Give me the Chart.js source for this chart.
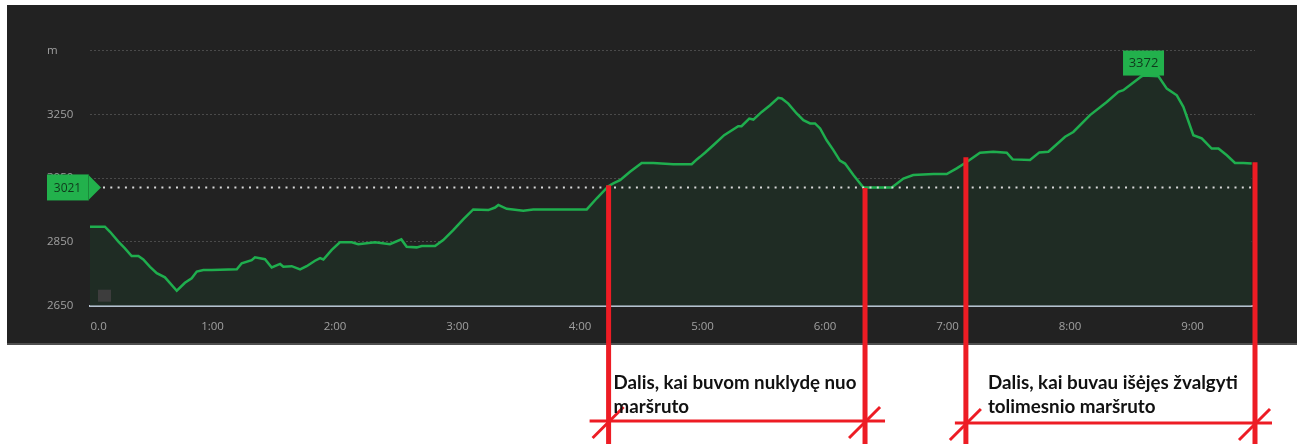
<!DOCTYPE html>
<html>
<head>
<meta charset="utf-8">
<script src="https://cdn.jsdelivr.net/npm/chart.js@4"></script>
<style>
  html, body { margin: 0; padding: 0; background: #fff; }
  #wrap { width: 1300px; height: 448px; }
</style>
</head>
<body>
<div id="wrap"><canvas id="profil" width="1300" height="448"></canvas></div>
<script>
// ---- DUOMENYS: laikas (min) ir aukstis (m) ----
const times = [0, 7.3, 9.8, 13.9, 17.1, 20.4, 23.7, 26.1, 29.4, 32.7, 36.7, 42.5, 46.5, 49.8, 52.3, 55.5, 59.6,
  71.9, 74.3, 79.2, 80.8, 85.7, 89.0, 93.1, 94.7, 98.8, 102.9, 106.1, 110.2, 112.7, 114.3, 118.4, 122.4,
  128.2, 131.4, 139.6, 146.9, 152.5, 155.1, 160.0, 162.5, 169.0, 173.0, 177.9, 182.8, 187.7, 195.1, 198.4,
  200.0, 204.1, 212.2, 217.1, 243.3, 248.2, 253.9, 256.3, 259.6, 264.5, 270.2, 275.9, 285.7, 294.7, 297.2,
  298.8, 301.2, 305.4, 310.6, 317.5, 319.1, 322.9, 324.9, 329.0, 333.1, 337.1, 338.8, 342.0, 346.1, 349.4,
  352.7, 355.1, 357.6, 360.8, 364.1, 367.3, 369.8, 373.9, 378.8, 392.7, 398.4, 403.2, 413.1, 419.6, 424.5,
  429.4, 435.9, 442.4, 449.0, 451.9, 460.4, 465.0, 469.4, 477.6, 481.6, 489.8, 498.0, 503.7, 506.1, 515.1,
  516.0, 523.3, 527.4, 532.3, 535.5, 540.4, 544.5, 549.4, 552.7, 556.8, 560.8, 564.9, 569.0];
const elev = [2898, 2898, 2882, 2851, 2830, 2806, 2806, 2795, 2772, 2752, 2739, 2697, 2722, 2736, 2757, 2762, 2762,
  2764, 2783, 2793, 2802, 2796, 2770, 2781, 2772, 2774, 2764, 2774, 2791, 2799, 2795, 2825, 2849,
  2849, 2843, 2849, 2843, 2858, 2835, 2833, 2837, 2837, 2856, 2887, 2921, 2952, 2950, 2958,
  2966, 2954, 2948, 2952, 2952, 2987, 3025, 3034, 3044, 3070, 3098, 3098, 3094, 3094, 3109,
  3117, 3130, 3154, 3185, 3213, 3213, 3237, 3234, 3258, 3279, 3302, 3300, 3284, 3253, 3232,
  3222, 3222, 3206, 3169, 3138, 3105, 3096, 3060, 3021, 3021, 3049, 3060, 3063, 3063, 3081,
  3101, 3130, 3133, 3130, 3109, 3107, 3131, 3133, 3180, 3195, 3248, 3289, 3321, 3326, 3370,
  3372, 3370, 3331, 3310, 3274, 3185, 3175, 3143, 3143, 3122, 3098, 3098, 3096];

const yTicks = [2650, 2850, 3050, 3250, 3450];   // 3450 rodomas kaip "m"
const xMaxMin = 570.6;                            // asies galas, min
const refLevel = 3021;                            // punktyrine linija + zyme kaireje
const peakTime = 516, peakElev = 3372;

// ---- anotacijos (raudoni ruozai) ----
const markTimes = [254, 379.6, 429, 570.6];
const markTops  = [3028, 3019, 3116, 3100];
const noteLines = [
  ['Dalis, kai buvom nuklydę nuo', 'maršruto'],
  ['Dalis, kai buvau išėjęs žvalgyti', 'tolimesnio maršruto']
];

const GREEN = '#22b14c';
const FONT = '"Open Sans", "DejaVu Sans", sans-serif';

// ---- PLUGIN: tamsus fonas ----
const panelBg = {
  id: 'panelBg',
  beforeDraw(chart){
    const c = chart.ctx;
    c.save();
    c.fillStyle = '#222222';
    c.fillRect(7, 5, 1290, 338);
    c.fillStyle = '#4f4f4f';
    c.fillRect(7, 343, 1290, 2);
    c.restore();
  }
};

// ---- PLUGIN: zymes, punktyras, raudoni ruozai ----
const overlays = {
  id: 'overlays',
  afterDatasetsDraw(chart){
    const c = chart.ctx, xs = chart.scales.x, ys = chart.scales.y, a = chart.chartArea;
    c.save();

    // pilkas kvadratelis pradzioje
    c.fillStyle = '#3d3d3d';
    c.fillRect(a.left + 8, a.bottom - 16, 13, 12);

    // punktyras ties refLevel
    const yr = ys.getPixelForValue(refLevel);
    c.strokeStyle = '#d9d9d9';
    c.lineWidth = 2;
    c.setLineDash([2, 5.3]);
    c.beginPath(); c.moveTo(a.left + 13, yr); c.lineTo(a.right - 4, yr); c.stroke();
    c.setLineDash([]);

    // kaire zyme 3021
    c.fillStyle = GREEN;
    c.fillRect(47, yr - 13, 41, 26);
    c.beginPath(); c.moveTo(88, yr - 13); c.lineTo(101, yr); c.lineTo(88, yr + 13); c.closePath(); c.fill();
    c.strokeStyle = '#1a8a3a'; c.lineWidth = 1;
    c.beginPath(); c.moveTo(88.5, yr - 13); c.lineTo(88.5, yr + 13); c.stroke();
    c.fillStyle = '#10391c';
    c.font = '12px ' + FONT;
    c.textAlign = 'center'; c.textBaseline = 'middle';
    c.fillText(String(refLevel), 67.5, yr + 1);

    // virsunes zyme
    const px = xs.getPixelForValue(peakTime), py = ys.getPixelForValue(peakElev);
    c.fillStyle = GREEN;
    c.fillRect(px - 20.5, py - 25, 41, 25);
    c.fillStyle = '#10391c';
    c.font = '13px ' + FONT;
    c.fillText(String(peakElev), px, py - 12);
    c.restore();
  },
  afterDraw(chart){
    const c = chart.ctx, xs = chart.scales.x, ys = chart.scales.y;
    c.save();
    c.strokeStyle = '#ed1c24';
    c.lineCap = 'butt';
    const mx = markTimes.map(t => xs.getPixelForValue(t));
    // vertikalios linijos
    c.lineWidth = 5;
    mx.forEach((x, i) => {
      c.beginPath(); c.moveTo(x, ys.getPixelForValue(markTops[i])); c.lineTo(x, 444); c.stroke();
    });
    // horizontalios linijos + istrizi bruksniai
    const hy = [421, 423];
    const ext = [[-19, 20], [-11, 17]];
    c.lineWidth = 3;
    [[0, 1], [2, 3]].forEach(([i0, i1], k) => {
      const y = hy[k];
      c.beginPath(); c.moveTo(mx[i0] + ext[k][0], y); c.lineTo(mx[i1] + ext[k][1], y); c.stroke();
      [mx[i0], mx[i1]].forEach(x => {
        c.beginPath(); c.moveTo(x - 16, y + 17); c.lineTo(x + 15, y - 14); c.stroke();
      });
    });
    // tekstai
    c.fillStyle = '#111';
    c.textAlign = 'left'; c.textBaseline = 'alphabetic';
    const fam = 'Lato, "Open Sans", sans-serif';
    const targetW = [243, 250];
    noteLines.forEach((lines, k) => {
      c.font = 'bold 20px ' + fam;
      const s = 20 * targetW[k] / c.measureText(lines[0]).width;
      c.font = 'bold ' + s.toFixed(2) + 'px ' + fam;
      const x0 = (k === 0 ? mx[0] + 5 : mx[2] + 22);
      c.fillText(lines[0], x0, 389);
      c.fillText(lines[1], x0, 413);
    });
    c.restore();
  }
};

// ---- GRAFIKAS ----
const ctx = document.getElementById('profil').getContext('2d');
new Chart(ctx, {
  type: 'line',
  data: {
    datasets: [{
      data: times.map((t, i) => ({ x: t, y: elev[i] })),
      borderColor: '#1fae4e',
      borderWidth: 2.5,
      backgroundColor: '#1f2c24',
      fill: 'start',
      pointRadius: 0,
      tension: 0
    }]
  },
  options: {
    responsive: false,
    animation: false,
    devicePixelRatio: 1,
    layout: { padding: { left: 47, right: 45, top: 50.7, bottom: 116.3 } },
    plugins: { legend: { display: false }, tooltip: { enabled: false } },
    scales: {
      x: {
        type: 'linear',
        min: 0, max: xMaxMin,
        afterFit(s){ s.height = 26; },
        grid: { display: false },
        border: { display: true, color: '#b4c2d0', width: 2 },
        ticks: {
          stepSize: 60, includeBounds: false, maxRotation: 0, autoSkip: false, padding: 6,
          color: '#a0a0a0', font: { size: 11.5, family: FONT },
          callback: v => v === 0 ? '\u2002\u2002\u20020.0' : (v / 60) + ':00'
        }
      },
      y: {
        min: yTicks[0], max: yTicks[yTicks.length - 1],
        afterFit(s){ s.width = 43; },
        afterBuildTicks(s){ s.ticks = yTicks.map(v => ({ value: v })); },
        grid: {
          color: c => c.tick && c.tick.value === yTicks[0] ? 'rgba(0,0,0,0)' : '#4a4a4a',
          lineWidth: 1, drawTicks: false
        },
        border: { display: false, dash: [2, 2] },
        ticks: {
          crossAlign: 'far', padding: 0,
          color: '#a0a0a0', font: { size: 11.5, family: FONT },
          callback: v => v === yTicks[yTicks.length - 1] ? 'm' : v
        }
      }
    }
  },
  plugins: [panelBg, overlays]
});
</script>
</body>
</html>
